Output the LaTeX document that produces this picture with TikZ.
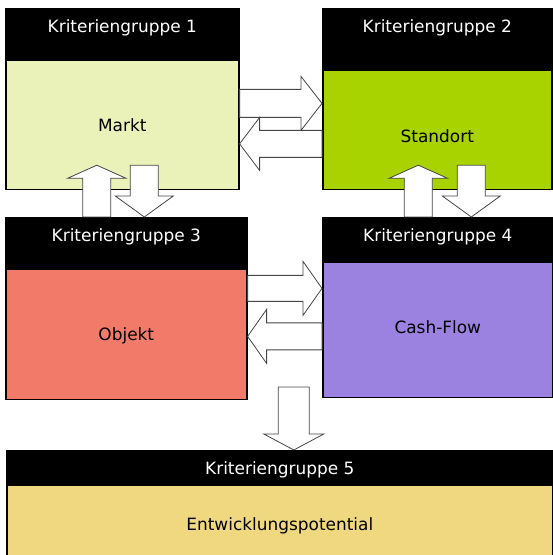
\documentclass[tikz,border=0pt]{standalone}
\usepackage{fontspec}
\setmainfont{DejaVu Sans}
\usetikzlibrary{positioning, calc}
\definecolor{marktgreen}{RGB}{235,242,185}
\definecolor{standortgreen}{RGB}{168,210,0}
\definecolor{objektred}{RGB}{242,122,104}
\definecolor{cashpurple}{RGB}{155,130,225}
\definecolor{potentialyellow}{RGB}{240,216,128}
\definecolor{arrowgray}{RGB}{70,70,70}
\tikzset{
shaftwd/.store in=\shaftwd, shaftwd=28bp,
headwd/.store in=\headwd, headwd=54bp,
headlen/.store in=\headlen, headlen=20bp,
header/.style={
    fill=black,
    draw=black,
    line width=1.6bp,
    text=white,
    inner sep=0pt,
    text height=24bp,
    anchor=north west,
    font=\fontsize{17}{20}\selectfont
},
body/.style={
    draw=black,
    line width=1.6bp,
    inner sep=0pt,
    text height=71bp,
    font=\fontsize{17}{20}\selectfont
},
bigarrow/.style={
    draw=arrowgray,
    fill=white,
    line width=0.8bp,
    to path={
      let \p1=($(\tikztotarget)-(\tikztostart)$),
          \n1={veclen(\x1,\y1)}, \n2={atan2(\y1,\x1)},
          \n3={\n1-\headlen}, \n4={\shaftwd/2}, \n5={\headwd/2},
          \n6={\n2+90}, \n7={\n2-90} in
      ($(\tikztostart)+(\n6:\n4)$)
      -- ($(\tikztostart)+(\n2:\n3)+(\n6:\n4)$)
      -- ($(\tikztostart)+(\n2:\n3)+(\n6:\n5)$)
      -- (\tikztotarget)
      -- ($(\tikztostart)+(\n2:\n3)+(\n7:\n5)$)
      -- ($(\tikztostart)+(\n2:\n3)+(\n7:\n4)$)
      -- ($(\tikztostart)+(\n7:\n4)$)
      -- cycle
    }
}
}

\begin{document}
\begin{tikzpicture}[x=1bp, y=1bp]
\useasboundingbox (0,0) rectangle (553,555);

% TOP LEFT: MARKT
\node[header, minimum width=233bp, text depth=26bp] (hd1) at (5,547) {Kriteriengruppe 1};
\node[body, fill=marktgreen, below=0pt of hd1, minimum width=233bp, text depth=58bp] (bd1) {Markt};

% TOP RIGHT: STANDORT
\node[header, minimum width=229bp, text depth=36bp] (hd2) at (322,547) {Kriteriengruppe 2};
\node[body, fill=standortgreen, below=0pt of hd2, minimum width=229bp, text height=72bp, text depth=47bp] (bd2) {Standort};

% MIDDLE LEFT: OBJEKT
\node[header, minimum width=241bp, text depth=26bp] (hd3) at (5,338) {Kriteriengruppe 3};
\node[body, fill=objektred, below=0pt of hd3, minimum width=241bp, text depth=59bp] (bd3) {Objekt};

% MIDDLE RIGHT: CASH-FLOW
\node[header, minimum width=230bp, text depth=19bp] (hd4) at (322,338) {Kriteriengruppe 4};
\node[body, fill=cashpurple, below=0pt of hd4, minimum width=230bp, text depth=64bp] (bd4) {Cash-Flow};

% BOTTOM: ENTWICKLUNGSPOTENTIAL
\node[header, minimum width=546bp, text depth=9bp] (hd5) at (6,105) {Kriteriengruppe 5};
\node[body, fill=potentialyellow, below=0pt of hd5, minimum width=546bp, text height=45bp, text depth=40bp] (bd5) {Entwicklungspotential};

% ARROWS
\coordinate (m12) at ([yshift=21.5bp]bd1.east);
\coordinate (s12) at (bd2.west |- m12);
\draw[bigarrow, headlen=21bp] (m12) to (s12);
\coordinate (m21) at ([yshift=-19bp]bd1.east);
\coordinate (s21) at (bd2.west |- m21);
\draw[bigarrow, shaftwd=27bp, headwd=53bp] (s21) to (m21);

\coordinate (m31) at ([xshift=-25.5bp, yshift=25bp]bd1.south);
\coordinate (o31) at (hd3.north -| m31);
\draw[bigarrow, headwd=58bp, headlen=13bp] (o31) to (m31);
\coordinate (m13) at ([xshift=22bp, yshift=25bp]bd1.south);
\coordinate (o13) at (hd3.north -| m13);
\draw[bigarrow, headwd=58bp, headlen=21bp] (m13) to (o13);

\coordinate (s42) at ([xshift=-19bp, yshift=25bp]bd2.south);
\coordinate (c42) at (hd4.north -| s42);
\draw[bigarrow, headwd=58bp, headlen=13bp] (c42) to (s42);
\coordinate (s24) at ([xshift=34bp, yshift=25bp]bd2.south);
\coordinate (c24) at (hd4.north -| s24);
\draw[bigarrow, headwd=58bp, headlen=21bp] (s24) to (c24);

\coordinate (o34) at ([yshift=46bp]bd3.east);
\coordinate (c34) at (bd4.west |- o34);
\draw[bigarrow, shaftwd=26bp, headlen=19bp] (o34) to (c34);
\coordinate (o43) at ([yshift=-2bp]bd3.east);
\coordinate (c43) at (bd4.west |- o43);
\draw[bigarrow, shaftwd=27bp, headlen=19bp] (c43) to (o43);

\coordinate (q5) at ([xshift=14bp, yshift=63bp]hd5.north);
\coordinate (e5) at (hd5.north -| q5);
\draw[bigarrow, shaftwd=31bp, headwd=60bp, headlen=16bp] (q5) to (e5);

\end{tikzpicture}
\end{document}
